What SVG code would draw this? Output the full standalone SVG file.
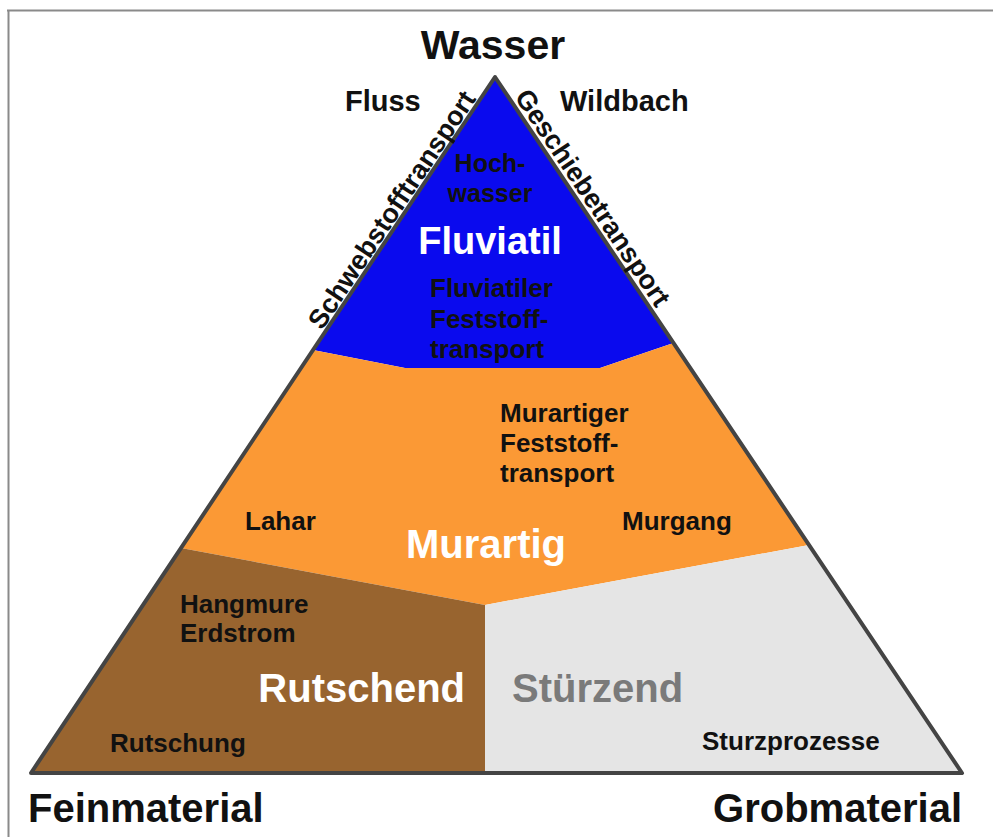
<svg xmlns="http://www.w3.org/2000/svg" width="993" height="837" viewBox="0 0 993 837">
<style>
text{font-family:"Liberation Sans",Arial,sans-serif;font-weight:bold;fill:#111}
.lbl{font-size:26px}
.big{font-size:40px}
.side{font-size:27px}
.top{font-size:29px}
.wh{fill:#ffffff}
</style>
<rect x="0" y="0" width="993" height="837" fill="#ffffff"/>
<path d="M7 10.5H993M8.5 10V837" stroke="#8a8a8a" stroke-width="2" fill="none"/>
<g id="fluviatil">
<polygon points="495,77 673.5,343 600,368 405,368 313,350" fill="#0a0aee"/>
<text class="lbl" x="490" y="172" text-anchor="middle" style="font-size:25px">Hoch-</text>
<text class="lbl" x="490" y="202" text-anchor="middle" style="font-size:25px">wasser</text>
<text class="big wh" x="490" y="254" text-anchor="middle" style="font-size:38px">Fluviatil</text>
<text class="lbl" x="430" y="297">Fluviatiler</text>
<text class="lbl" x="430" y="328">Feststoff-</text>
<text class="lbl" x="430" y="358">transport</text>
</g>
<g id="murartig">
<polygon points="313,350 405,368 600,368 673.5,343 809,545 485,605 181,548" fill="#fb9935"/>
<text class="lbl" x="500" y="422">Murartiger</text>
<text class="lbl" x="500" y="452">Feststoff-</text>
<text class="lbl" x="500" y="482">transport</text>
<text class="lbl" x="245" y="530">Lahar</text>
<text class="lbl" x="622" y="530">Murgang</text>
<text class="big wh" x="486" y="558" text-anchor="middle">Murartig</text>
</g>
<g id="rutschend">
<polygon points="181,548 485,605 485,773 31,773" fill="#98642f"/>
<text class="lbl" x="180" y="613">Hangmure</text>
<text class="lbl" x="180" y="642">Erdstrom</text>
<text class="big wh" x="465" y="702" text-anchor="end">Rutschend</text>
<text class="lbl" x="110" y="752">Rutschung</text>
</g>
<g id="stuerzend">
<polygon points="485,605 809,545 962,773 485,773" fill="#e5e5e5"/>
<text class="big" x="512" y="702" style="fill:#7a7a7a">Stürzend</text>
<text class="lbl" x="702" y="750">Sturzprozesse</text>
</g>
<g id="connectors">
<polygon points="495,77 962,773 31,773" fill="none" stroke="#444444" stroke-width="4" stroke-linejoin="round"/>
</g>
<g id="labels">
<text class="big" x="493" y="59" text-anchor="middle" style="font-size:41px">Wasser</text>
<text class="top" x="345" y="111">Fluss</text>
<text class="top" x="560" y="111">Wildbach</text>
<text class="side" transform="translate(322,331) rotate(-56.3)">Schwebstofftransport</text>
<text class="side" transform="translate(514,97) rotate(56.1)">Geschiebetransport</text>
<text class="big" x="28" y="822">Feinmaterial</text>
<text class="big" x="962" y="822" text-anchor="end">Grobmaterial</text>
</g>
</svg>
